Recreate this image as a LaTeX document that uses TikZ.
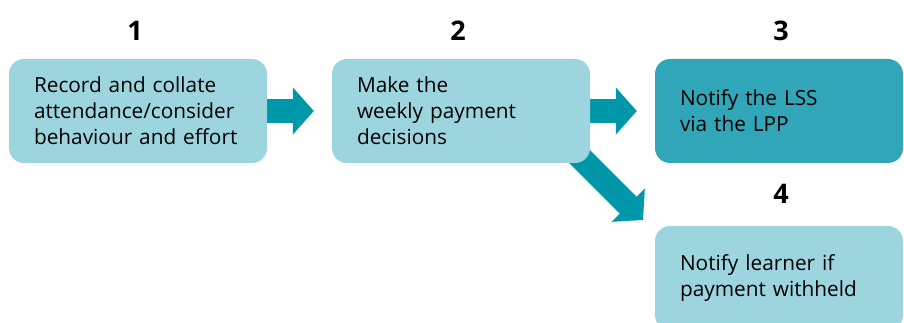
\documentclass[tikz,border=0pt]{standalone}
\usepackage{fontspec}
\setmainfont{Open Sans}
\usetikzlibrary{arrows.meta,backgrounds}
\definecolor{boxlight}{HTML}{9DD5DF}
\definecolor{boxdark}{HTML}{30A6B8}
\definecolor{flowteal}{HTML}{0097AA}

\begin{document}
\begin{tikzpicture}[x=1pt,y=-1pt,
    stage/.style={fill=boxlight, rounded corners=15pt, minimum height=104pt, inner xsep=25pt, inner ysep=0pt,
      align=left, text=black, font=\fontsize{20.8}{26}\selectfont},
    num/.style={font=\fontsize{27}{27}\selectfont\bfseries},
    flow/.style={flowteal, line width=24pt, -{Triangle[length=21pt,width=46pt]}}]
        \clip (0,0) rectangle (904,323);
        % the four stages
        \node[stage, text width=208pt] (record) at (138,111) {Record and collate\\attendance/consider\\behaviour and effort};
        \node[stage, text width=208pt] (decide) at (461,111) {Make the\\weekly payment\\decisions};
        \node[stage, text width=198pt, fill=boxdark] (notify) at (779,111) {Notify the LSS\\via the LPP};
        \node[stage, text width=198pt] (learner) at (779,278) {Notify learner if\\payment withheld};
        % step numbers
        \node[num] (n1) at (135,31) {1};
        \node[num] (n2) at (458,31) {2};
        \node[num] (n3) at (781,31) {3};
        \node[num] (n4) at (781,194) {4};
        % block arrows behind the boxes
        \coordinate (fork) at (575,152);
        \coordinate (drop) at (643,220);
        \begin{scope}[on background layer]
            \draw[flow, shorten >=18pt] (record.east) -- (decide.west);
            \draw[flow, shorten >=18pt] (decide.east) -- (notify.west);
            \draw[flow] (fork) -- (drop);
        \end{scope}
    \end{tikzpicture}
\end{document}
